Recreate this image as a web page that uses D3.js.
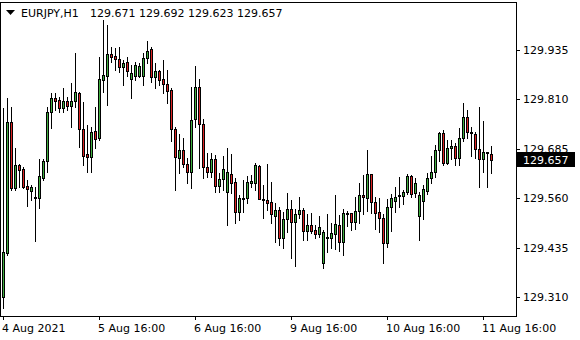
<!DOCTYPE html>
<html lang="en">
<head>
<meta charset="UTF-8">
<title>EURJPY H1</title>
<style>
  html, body { margin: 0; padding: 0; background: #fff; }
  svg { display: block; }
  text { font-family: "DejaVu Sans", sans-serif; font-size: 11px; fill: #000; }
</style>
</head>
<body>
<script src="https://d3js.org/d3.v7.min.js"></script>
<script>
const symbol = 'EURJPY,H1';
const lastOHLC = ['129.671', '129.692', '129.623', '129.657'];

const open = [129.310,129.421,129.753,129.586,129.644,129.634,129.591,129.578,129.563,129.560,
  129.611,129.654,129.778,129.814,129.808,129.788,129.806,129.793,129.806,129.826,
  129.735,129.672,129.664,129.730,129.712,129.859,129.869,129.925,129.920,129.912,
  129.892,129.905,129.862,129.869,129.869,129.869,129.915,129.938,129.867,129.882,
  129.862,129.849,129.834,129.735,129.662,129.682,129.646,129.626,129.760,129.841,
  129.748,129.639,129.626,129.659,129.591,129.608,129.575,129.621,129.601,129.525,
  129.558,129.560,129.598,129.598,129.641,129.558,129.555,129.550,129.515,129.530,
  129.459,129.507,129.532,129.500,129.520,129.530,129.477,129.492,129.479,129.469,
  129.396,129.462,129.459,129.469,129.492,129.449,129.520,129.522,129.500,129.527,
  129.568,129.560,129.621,129.550,129.525,129.510,129.446,129.538,129.553,129.565,
  129.565,129.575,129.616,129.573,129.515,129.553,129.578,129.611,129.626,129.682,
  129.725,129.649,129.687,129.692,129.662,129.712,129.765,129.727,129.722,129.684,
  129.659,129.677,129.671];
const high = [129.788,129.814,129.791,129.687,129.646,129.639,129.606,129.593,129.588,129.659,
  129.659,129.791,129.826,129.826,129.816,129.839,129.816,129.851,129.928,129.829,
  129.803,129.745,129.740,129.791,129.917,130.011,129.998,129.943,129.940,129.943,
  129.910,129.917,129.897,129.905,129.902,129.927,129.958,129.943,129.902,129.884,
  129.910,129.884,129.839,129.740,129.722,129.712,129.662,129.841,129.895,129.862,
  129.760,129.674,129.674,129.669,129.624,129.667,129.687,129.672,129.611,129.568,
  129.606,129.616,129.619,129.649,129.644,129.593,129.646,129.601,129.548,129.538,
  129.525,129.573,129.555,129.532,129.563,129.535,129.520,129.522,129.492,129.515,
  129.479,129.520,129.497,129.568,129.517,129.532,129.527,129.522,129.563,129.598,
  129.619,129.682,129.621,129.563,129.560,129.520,129.558,129.570,129.588,129.613,
  129.581,129.621,129.619,129.611,129.575,129.593,129.624,129.667,129.694,129.727,
  129.732,129.707,129.707,129.700,129.738,129.801,129.783,129.740,129.727,129.791,
  129.755,129.677,129.692];
const low = [129.282,129.416,129.581,129.581,129.588,129.586,129.540,129.555,129.452,129.535,
  129.606,129.626,129.738,129.783,129.778,129.778,129.783,129.740,129.791,129.689,
  129.644,129.626,129.626,129.687,129.707,129.829,129.796,129.905,129.884,129.879,
  129.846,129.869,129.814,129.859,129.867,129.846,129.902,129.854,129.839,129.846,
  129.826,129.801,129.705,129.581,129.624,129.639,129.598,129.586,129.740,129.636,
  129.611,129.613,129.613,129.575,129.575,129.581,129.492,129.573,129.497,129.505,
  129.525,129.548,129.588,129.581,129.558,129.510,129.530,129.497,129.449,129.441,
  129.434,129.474,129.408,129.388,129.510,129.454,129.454,129.472,129.459,129.462,
  129.383,129.424,129.434,129.431,129.426,129.416,129.489,129.479,129.482,129.497,
  129.520,129.527,129.522,129.482,129.474,129.396,129.436,129.477,129.525,129.538,
  129.545,129.570,129.563,129.563,129.454,129.507,129.570,129.598,129.613,129.654,
  129.644,129.646,129.659,129.644,129.644,129.705,129.712,129.667,129.662,129.588,
  129.626,129.588,129.623];
const close = [129.424,129.753,129.586,129.644,129.631,129.588,129.583,129.588,129.560,129.616,
  129.654,129.778,129.814,129.806,129.788,129.806,129.793,129.806,129.829,129.735,
  129.667,129.664,129.727,129.710,129.862,129.872,129.925,129.917,129.912,129.892,
  129.902,129.882,129.877,129.897,129.895,129.915,129.932,129.867,129.882,129.859,
  129.849,129.831,129.735,129.664,129.682,129.646,129.626,129.758,129.841,129.748,
  129.639,129.626,129.659,129.591,129.608,129.634,129.626,129.598,129.525,129.560,
  129.560,129.601,129.603,129.644,129.558,129.555,129.548,129.520,129.530,129.459,
  129.507,129.532,129.500,129.520,129.530,129.477,129.492,129.477,129.469,129.487,
  129.474,129.459,129.472,129.494,129.449,129.522,129.522,129.500,129.527,129.568,
  129.563,129.621,129.550,129.522,129.510,129.446,129.538,129.560,129.563,129.568,
  129.575,129.616,129.570,129.598,129.568,129.583,129.611,129.626,129.682,129.725,
  129.649,129.687,129.692,129.662,129.712,129.765,129.727,129.725,129.684,129.659,
  129.677,129.674,129.657];

const priceTicks = [129.310, 129.435, 129.560, 129.685, 129.810, 129.935];
const timeTickIdx = [0, 24, 48, 72, 96, 120];
const timeTickLabels = ['4 Aug 2021', '5 Aug 16:00', '6 Aug 16:00', '9 Aug 16:00', '10 Aug 16:00', '11 Aug 16:00'];

const width = 580, height = 340;
const plotRight = 516, plotTop = 2, plotBottom = 316;
const bullColor = '#3fae3f', bearColor = '#dc2323';

const candles = open.map((o, i) => ({ i, o, h: high[i], l: low[i], c: close[i] }));

const x = d3.scaleLinear().domain([0, 1]).range([3, 7]);
const y = d3.scaleLinear().domain([129.310, 129.935]).range([297, 50]);
const py = v => Math.round(y(v));

const svg = d3.select('body').append('svg')
  .attr('width', width).attr('height', height)
  .attr('shape-rendering', 'crispEdges');

// candles
const g = svg.append('g');
candles.forEach(d => {
  const cx = Math.round(x(d.i));
  const top = Math.min(py(d.o), py(d.c)), bot = Math.max(py(d.o), py(d.c));
  g.append('rect').attr('x', cx).attr('y', py(d.h)).attr('width', 1)
    .attr('height', py(d.l) - py(d.h) + 1).attr('fill', '#000');
  g.append('rect').attr('x', cx - 1).attr('y', top).attr('width', 3)
    .attr('height', bot - top + 1).attr('fill', '#000');
  if (bot - top >= 2) {
    g.append('rect').attr('x', cx).attr('y', top + 1).attr('width', 1)
      .attr('height', bot - top - 1).attr('fill', d.c >= d.o ? bullColor : bearColor);
  }
});

// frame
svg.append('path')
  .attr('d', `M0.5,${plotTop + 0.5}H${plotRight + 0.5}V${plotBottom + 0.5}H0.5Z`)
  .attr('fill', 'none').attr('stroke', '#000');

// price axis
const pa = svg.append('g').attr('transform', `translate(${plotRight},0)`);
priceTicks.forEach(v => {
  pa.append('rect').attr('x', 1).attr('y', py(v)).attr('width', 3).attr('height', 1).attr('fill', '#000');
  pa.append('text').attr('x', 7).attr('y', py(v) + 4).text(v.toFixed(3));
});

// current price marker
const lastY = py(close[close.length - 1]);
pa.append('rect').attr('x', 1).attr('y', lastY - 8).attr('width', 58).attr('height', 15).attr('fill', '#000');
pa.append('text').attr('x', 7).attr('y', lastY + 4).style('fill', '#fff')
  .text(close[close.length - 1].toFixed(3));

// time axis
timeTickIdx.forEach((idx, k) => {
  const tx = Math.round(x(idx));
  svg.append('rect').attr('x', tx).attr('y', plotBottom + 1).attr('width', 1).attr('height', 3).attr('fill', '#000');
  svg.append('text').attr('x', tx - 1).attr('y', 332).text(timeTickLabels[k]);
});

// header
svg.append('path').attr('d', 'M6,10H15L10.5,15Z').attr('fill', '#000').attr('shape-rendering', 'auto');
svg.append('text').attr('x', 21).attr('y', 17).text(symbol);
svg.append('text').attr('x', 90).attr('y', 17).text(lastOHLC.join(' '));
</script>
</body>
</html>
